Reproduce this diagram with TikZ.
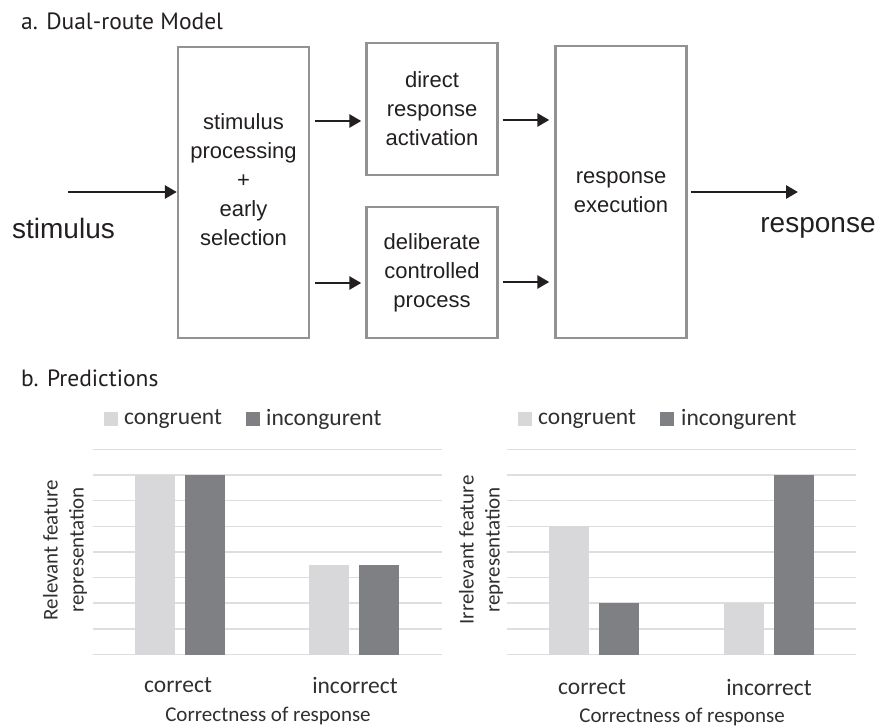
\documentclass[tikz,border=0pt]{standalone}
\usepackage{fontspec}
\setmainfont{Liberation Sans}
\newfontfamily\headfont{PT Sans}
\newfontfamily\chartfont{Carlito}
\usetikzlibrary{arrows.meta}
\definecolor{boxgray}{HTML}{929292}
\definecolor{inkblack}{HTML}{231F20}
\definecolor{gridgray}{HTML}{DEDEDE}
\definecolor{conglight}{HTML}{D8D8DA}
\definecolor{incdark}{HTML}{7F8084}
\definecolor{charttext}{HTML}{303030}
\tikzset{
  head/.style={font=\headfont\fontsize{23.5}{26}\selectfont, text=inkblack, inner sep=0pt},
  stage/.style={draw=boxgray, line width=2.4pt, minimum width=131pt, inner sep=0pt,
    align=center, text=inkblack, font=\fontsize{22}{29}\selectfont},
  stagetext/.style={align=center, text=inkblack, inner sep=0pt, font=\fontsize{22}{29}\selectfont},
  ends/.style={text=inkblack, inner sep=0pt, font=\fontsize{28}{32}\selectfont},
  grid line/.style={draw=gridgray, line width=1.5pt},
  legendtext/.style={text=charttext, inner sep=0pt, font=\chartfont\fontsize{23.5}{26}\selectfont},
  cattext/.style={text=charttext, inner sep=0pt, font=\chartfont\fontsize{23.5}{26}\selectfont},
  axistext/.style={text=charttext, inner sep=0pt, align=center, font=\chartfont\fontsize{21}{26}\selectfont}
}
\begin{document}
\begin{tikzpicture}[x=1pt,y=-1pt]
  \useasboundingbox (0,0) rectangle (878,727);
  \node[head, anchor=west] (titlea) at (21,21) {a. Dual-route Model};
  \node[stage, minimum height=291pt] (sp) at (243.5,192.5) {};
  \node[stagetext] (sptext) at (243.5,180) {stimulus\\processing\\+\\early\\selection};
  \node[stage, minimum height=132pt] (dra) at (432,109) {direct\\response\\activation};
  \node[stage, minimum height=131pt] (dcp) at (432,272.5) {deliberate\\controlled\\process};
  \node[stage, minimum height=292pt] (re) at (621,192) {response\\execution};
  \node[ends] (stim) at (63.5,228) {stimulus};
  \node[ends] (resp) at (818,228) {response};
  \coordinate (stimin) at (68,192);
  \coordinate (respout) at (798,192);
  \begin{scope}[inkblack, line width=2.8pt, >={Triangle[length=12pt,width=13pt]}]
    \draw[->] (stimin) -- (sp.west |- stimin);
    \draw[->, shorten <=5pt, shorten >=4pt] (sp.east |- 0,121) -- (dra.west |- 0,121);
    \draw[->, shorten <=5pt, shorten >=4pt] (sp.east |- 0,283) -- (dcp.west |- 0,283);
    \draw[->, shorten <=4pt, shorten >=5pt] (dra.east |- 0,120) -- (re.west |- 0,120);
    \draw[->, shorten <=4pt, shorten >=5pt] (dcp.east |- 0,282) -- (re.west |- 0,282);
    \draw[->, shorten <=3pt] (re.east |- respout) -- (respout);
  \end{scope}
  \node[head, anchor=west] (titleb) at (21,378) {b. Predictions};
  % relevant feature chart
  \foreach \i in {0,...,8}
    \draw[grid line] (93,{654.5-25.65*\i}) -- (442,{654.5-25.65*\i});
  \fill[conglight] (135,654.5) rectangle (175,{654.5-7*25.65});
  \fill[incdark] (185,654.5) rectangle (225,{654.5-7*25.65});
  \fill[conglight] (309,654.5) rectangle (349,{654.5-3.5*25.65});
  \fill[incdark] (359,654.5) rectangle (399,{654.5-3.5*25.65});
  \fill[conglight] (104,412) rectangle (118,426);
  \node[legendtext, anchor=west] (lcong) at (124,419) {congruent};
  \fill[incdark] (246,412) rectangle (260,426);
  \node[legendtext, anchor=west] (linc) at (266,419) {incongurent};
  \node[axistext, rotate=90] (lylabel) at (65,550) {Relevant feature\\representation};
  \node[cattext] (lcorrect) at (178,685) {correct};
  \node[cattext] (lincorrect) at (355,685) {incorrect};
  \node[axistext] (lxlabel) at (268,716) {Correctness of response};
  % irrelevant feature chart
  \foreach \i in {0,...,8}
    \draw[grid line] (507,{654.5-25.65*\i}) -- (856,{654.5-25.65*\i});
  \fill[conglight] (549,654.5) rectangle (589,{654.5-5*25.65});
  \fill[incdark] (599,654.5) rectangle (639,{654.5-2*25.65});
  \fill[conglight] (724,654.5) rectangle (764,{654.5-2*25.65});
  \fill[incdark] (774,654.5) rectangle (814,{654.5-7*25.65});
  \fill[conglight] (518,412) rectangle (532,426);
  \node[legendtext, anchor=west] (rcong) at (538,419) {congruent};
  \fill[incdark] (660,412) rectangle (674,426);
  \node[legendtext, anchor=west] (rinc) at (681,419) {incongurent};
  \node[axistext, rotate=90] (rylabel) at (481,550) {Irrelevant feature\\representation};
  \node[cattext] (rcorrect) at (592,687) {correct};
  \node[cattext] (rincorrect) at (769,687) {incorrect};
  \node[axistext] (rxlabel) at (682,717) {Correctness of response};
\end{tikzpicture}
\end{document}
